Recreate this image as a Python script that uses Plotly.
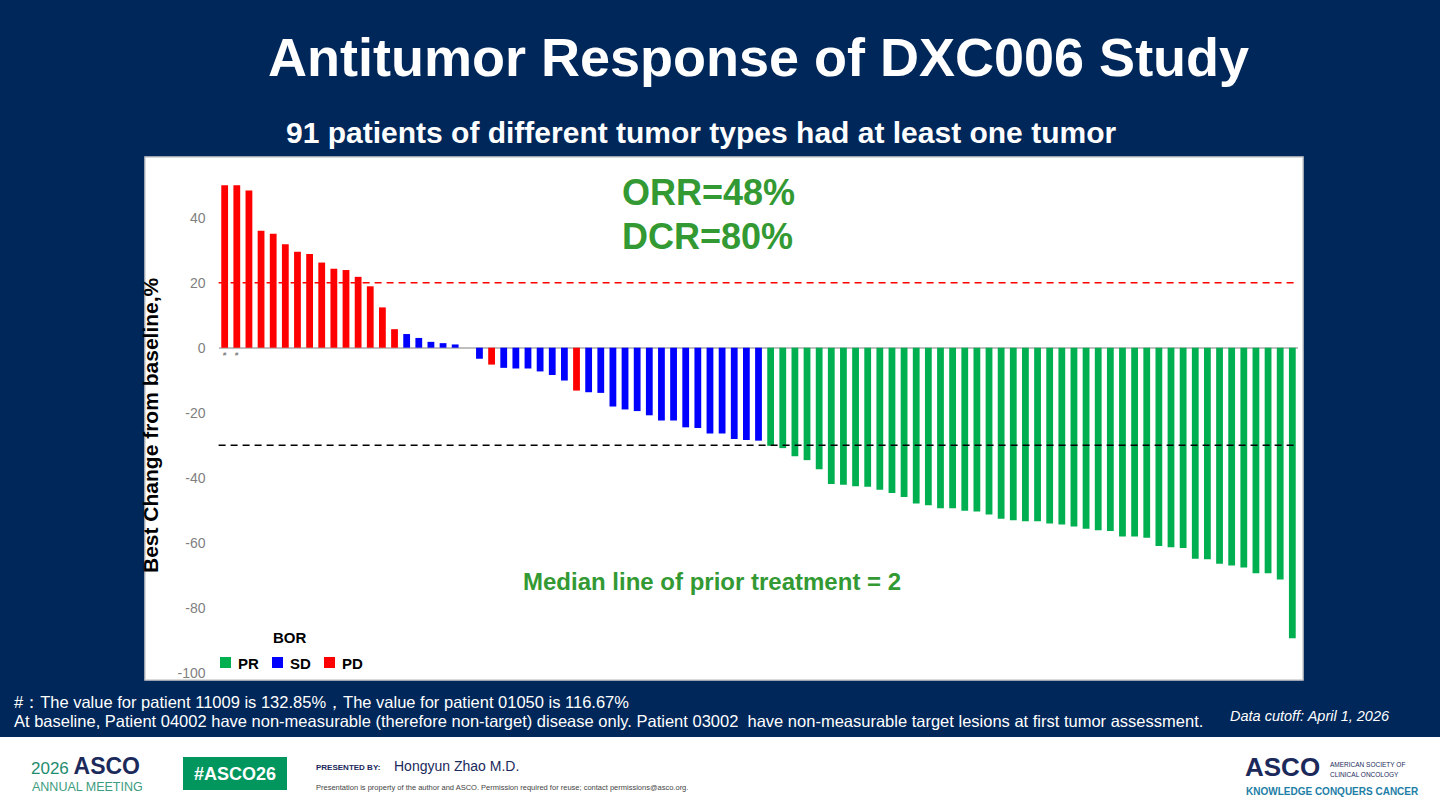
import plotly.graph_objects as go

# ---------------- data ----------------
patients = list(range(1, 90))
best_change = [50, 50, 48.4, 36.0, 35.1, 31.8, 29.5, 28.8, 26.2, 24.3, 23.9, 21.8, 18.9, 12.4, 5.7,
               4.2, 3.0, 1.8, 1.4, 1.0,
               0,
               -3.4, -5.2, -6.2, -6.4, -6.4, -7.3, -8.4, -10.1, -13.2, -13.7, -13.9, -18.1, -19.0,
               -19.5, -20.8, -22.4, -22.4, -24.5, -24.7, -26.4, -26.4, -28.1, -28.4, -28.6,
               -30.2, -30.9, -33.4, -34.6, -37.4, -41.9, -42.2, -42.6, -42.8, -43.7, -44.7, -45.9,
               -47.9, -48.5, -49.4, -49.4, -50.2, -50.4, -51.3, -52.6, -53.1, -53.4, -53.4, -54.1,
               -54.4, -55.0, -55.7, -56.2, -56.4, -58.1, -58.1, -58.5, -61.0, -61.4, -61.6, -64.9,
               -65.1, -66.5, -67.0, -67.6, -69.4, -69.4, -71.3, -89.4]
bor = (["PD"] * 15 + ["SD"] * 5 + ["SD"] + ["SD"] + ["PD"] + ["SD"] * 6 + ["PD"]
       + ["SD"] * 15 + ["PR"] * 44)
capped_patients = [1, 2]          # values 132.85% and 116.67% shown capped
pd_threshold = 20
pr_threshold = -30
y_ticks = [-100, -80, -60, -40, -20, 0, 20, 40]
y_tick_labels = ["-100", "-80", "-60", "-40", "-20", "0", "20", "40"]
categories = ["PR", "SD", "PD"]
colors = {"PR": "#00B050", "SD": "#0000FF", "PD": "#FF0000"}

# ---------------- helpers ----------------
W, H = 1440, 810
NAVY = "#00275A"
GREEN_TXT = "#339933"
FONT = "Arial, Liberation Sans, sans-serif"


def fx(px):
    return px / W


def fy(py):
    return 1 - py / H


fig = go.Figure()
for cat in categories:
    fig.add_trace(go.Bar(
        x=patients,
        y=[v if b == cat else None for v, b in zip(best_change, bor)],
        name=cat,
        marker=dict(color=colors[cat], line=dict(width=0)),
        width=0.56,
        showlegend=False,
    ))

ann = []


def add_text(text, x, y, size, color="white", xanchor="left", bold=False, italic=False, family=FONT, **kw):
    t = text
    if bold:
        t = "<b>" + t + "</b>"
    if italic:
        t = "<i>" + t + "</i>"
    ann.append(dict(text=t, x=fx(x), y=fy(y), xref="paper", yref="paper", xanchor=xanchor,
                    yanchor="middle", showarrow=False, font=dict(size=size, color=color, family=family), **kw))


add_text("Antitumor Response of DXC006 Study", 758, 57, 54, bold=True, xanchor="center")
add_text("91 patients of different tumor types had at least one tumor", 701, 132, 30, bold=True, xanchor="center")
add_text("ORR=48%", 620, 192, 36, color=GREEN_TXT, bold=True)
add_text("DCR=80%", 620, 237, 36, color=GREEN_TXT, bold=True)
add_text("Median line of prior treatment = 2", 712, 581, 24, color=GREEN_TXT, bold=True, xanchor="center")
ann.append(dict(text="<b>Best Change from baseline,%</b>", x=fx(150), y=fy(425), xref="paper", yref="paper",
                textangle=-90, showarrow=False, xanchor="center", yanchor="middle",
                font=dict(size=21, color="black", family=FONT)))
for p in capped_patients:
    ann.append(dict(text="#", x=p, y=0, xref="x", yref="y", showarrow=False, yanchor="top", yshift=-1,
                    font=dict(size=6, color="#595959", family=FONT)))

# custom legend
add_text("BOR", 290, 637, 15, color="black", bold=True, xanchor="center")
legend_x = {"PR": 220, "SD": 272, "PD": 324}

add_text("#：The value for patient 11009 is 132.85%，The value for patient 01050 is 116.67%", 12, 702, 16.5)
add_text("At baseline, Patient 04002 have non-measurable (therefore non-target) disease only. Patient 03002  have "
         "non-measurable target lesions at first tumor assessment.", 12, 721, 16.5)
add_text("Data cutoff: April 1, 2026", 1228, 716, 14.5, italic=True)

# footer
add_text("<span style='color:#1E8C6E;font-size:17px'>2026 </span><b>ASCO</b>", 29, 766, 23, color="#1B2A5B")
add_text("ANNUAL MEETING", 30, 787, 12.5, color="#3C9C80")
add_text("#ASCO26", 235, 774, 18, bold=True, xanchor="center")
add_text("PRESENTED BY:", 314, 767, 8, color="#1B2A5B", bold=True)
add_text("Hongyun Zhao M.D.", 392, 766, 14, color="#1B2A5B")
add_text("Presentation is property of the author and ASCO. Permission required for reuse; contact permissions@asco.org.",
         314, 787, 7.5, color="#444444")
add_text("ASCO", 1243, 767, 26, color="#1B2A5B", bold=True)
add_text("AMERICAN SOCIETY OF", 1328, 764, 6.5, color="#1B2A5B")
add_text("CLINICAL ONCOLOGY", 1328, 774, 6.5, color="#1B2A5B")
add_text("KNOWLEDGE CONQUERS CANCER", 1244, 791, 10, color="#1D7EA6", bold=True)

fig.update_layout(
    width=W, height=H,
    margin=dict(l=0, r=0, t=0, b=0, autoexpand=False),
    paper_bgcolor=NAVY,
    plot_bgcolor="rgba(0,0,0,0)",
    barmode="overlay",
    annotations=ann,
    showlegend=False,
    xaxis=dict(domain=[fx(218.6), fx(1298.4)], range=[0.5, 89.5], showticklabels=False, showgrid=False,
               zeroline=False, showline=False, ticks=""),
    yaxis=dict(domain=[fy(672.7), fy(168.95)], range=[-100, 55], tickvals=y_ticks, ticktext=y_tick_labels,
               showgrid=False, zeroline=True, zerolinecolor="#BFBFBF", zerolinewidth=1.5, showline=False,
               ticks="", ticklabelstandoff=12,
               tickfont=dict(size=14, color="#7F7F7F", family=FONT)),
    font=dict(family=FONT),
)

# background panels
fig.add_shape(type="rect", xref="paper", yref="paper", x0=fx(145), x1=fx(1303), y0=fy(680), y1=fy(157),
              fillcolor="white", line=dict(color="#D0D0D0", width=1.5), layer="below")
fig.add_shape(type="rect", xref="paper", yref="paper", x0=0, x1=1, y0=0, y1=fy(737),
              fillcolor="white", line=dict(width=0), layer="below")
fig.add_shape(type="rect", xref="paper", yref="paper", x0=fx(183), x1=fx(287), y0=fy(790), y1=fy(757),
              fillcolor="#00965E", line=dict(width=0), layer="below")
# legend swatches
for cat in categories:
    x0 = legend_x[cat]
    fig.add_shape(type="rect", xref="paper", yref="paper", x0=fx(x0), x1=fx(x0 + 11), y0=fy(668), y1=fy(657),
                  fillcolor=colors[cat], line=dict(width=0))
    fig.add_annotation(text="<b>" + cat + "</b>", x=fx(x0 + 16), y=fy(663), xref="paper", yref="paper",
                       xanchor="left", yanchor="middle", showarrow=False,
                       font=dict(size=15, color="black", family=FONT))

# reference lines
fig.add_hline(y=pd_threshold, line=dict(color="#FF0000", width=1.6, dash="7px,5px"))
fig.add_hline(y=pr_threshold, line=dict(color="#000000", width=1.6, dash="7px,5px"))

fig.write_html("out.html")
